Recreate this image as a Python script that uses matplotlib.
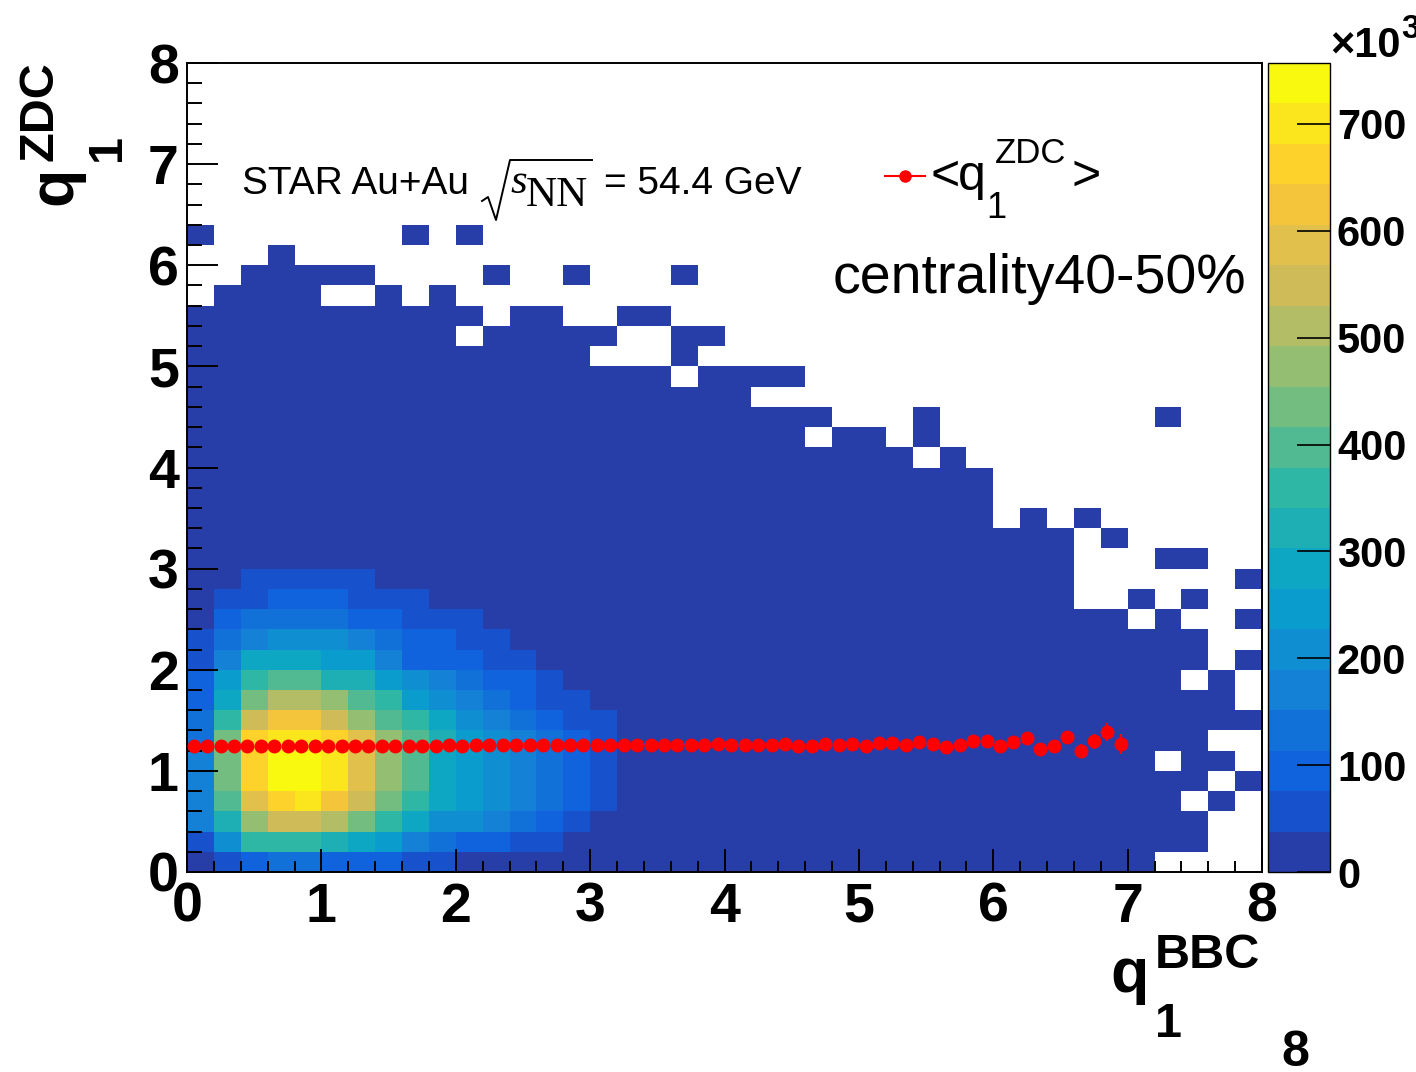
import numpy as np
import matplotlib
matplotlib.use("Agg")
import matplotlib.pyplot as plt
from matplotlib.colors import ListedColormap, BoundaryNorm
from matplotlib.lines import Line2D
from matplotlib.ticker import MultipleLocator

plt.rcParams['font.family'] = ['Liberation Sans', 'DejaVu Sans']

# ---------------------------------------------------------------- data
# 40 x 40 bins, 0 < q1 < 8 on both axes
q_bbc_edges = np.linspace(0.0, 8.0, 41)
q_zdc_edges = np.linspace(0.0, 8.0, 41)

# counts (in thousands) of the dense low-q corner: rows are q1^ZDC bins 0..15,
# columns are q1^BBC bins 0..16
core_counts_k = [
    [28, 60, 98, 135, 130, 100, 92, 88, 55, 45, 30, 22, 16, 12, 9, 7, 5],
    [62, 205, 355, 362, 358, 318, 280, 245, 172, 128, 92, 80, 55, 42, 30, 22, 16],
    [168, 320, 472, 545, 550, 512, 432, 362, 285, 212, 198, 165, 130, 90, 60, 35, 25],
    [172, 398, 585, 662, 700, 625, 548, 435, 358, 282, 242, 205, 168, 128, 92, 58, 35],
    [175, 432, 665, 740, 745, 702, 588, 470, 395, 285, 245, 210, 170, 132, 95, 60, 36],
    [170, 430, 660, 742, 757, 698, 585, 472, 398, 282, 248, 205, 168, 130, 92, 58, 35],
    [135, 428, 662, 705, 710, 660, 580, 468, 392, 320, 245, 205, 165, 128, 90, 55, 33],
    [130, 360, 548, 625, 622, 545, 470, 395, 355, 280, 208, 168, 130, 92, 58, 40, 28],
    [95, 282, 432, 510, 512, 470, 398, 358, 245, 205, 168, 130, 92, 58, 42, 30, 20],
    [90, 245, 360, 398, 395, 322, 320, 245, 205, 170, 130, 92, 80, 55, 35, 25, 18],
    [58, 168, 282, 285, 283, 245, 248, 170, 95, 92, 90, 55, 42, 30, 22, 15, 10],
    [55, 130, 170, 208, 210, 205, 170, 132, 95, 90, 58, 45, 30, 20, 14, 10, 7],
    [35, 92, 130, 132, 135, 130, 95, 90, 58, 50, 40, 28, 18, 12, 8, 6, 4],
    [25, 55, 58, 92, 95, 90, 58, 55, 40, 30, 20, 14, 9, 6, 4, 3, 2],
    [15, 32, 42, 45, 48, 45, 40, 30, 22, 15, 10, 7, 5, 3, 2, 2, 1],
    [8, 18, 25, 30, 32, 28, 25, 20, 14, 9, 6, 4, 3, 2, 1, 1, 1],
]

# filled bins ('#') of the full map, top row = highest q1^ZDC bin
occupied_rows = [
    ".......... .......... .......... ..........",
    ".......... .......... .......... ..........",
    ".......... .......... .......... ..........",
    ".......... .......... .......... ..........",
    ".......... .......... .......... ..........",
    ".......... .......... .......... ..........",
    ".......... .......... .......... ..........",
    ".......... .......... .......... ..........",
    "#.......#. #......... .......... ..........",
    "...#...... .......... .......... ..........",
    "..#####... .#..#...#. .......... ..........",
    ".####..#.# .......... .......... ..........",
    "########## #.##..##.. .......... ..........",
    "########## .#####..## .......... ..........",
    "########## #####...#. .......... ..........",
    "########## ########.# ###....... ..........",
    "########## ########## #......... ..........",
    "########## ########## ####...#.. ......#...",
    "########## ########## ###.##.#.. ..........",
    "########## ########## #######.#. ..........",
    "########## ########## ########## ..........",
    "########## ########## ########## ..........",
    "########## ########## ########## .#.#......",
    "########## ########## ########## ###.#.....",
    "########## ########## ########## ###...##..",
    "########## ########## ########## ###......#",
    "########## ########## ########## ###..#.#..",
    "########## ########## ########## #####.#..#",
    "########## ########## ########## ########..",
    "########## ########## ########## ########.#",
    "########## ########## ########## #######.#.",
    "########## ########## ########## #########.",
    "########## ########## ########## ##########",
    "########## ########## ########## ########..",
    "########## ########## ########## ######.##.",
    "########## ########## ########## ########.#",
    "########## ########## ########## #######.#.",
    "########## ########## ########## ########..",
    "########## ########## ########## ########..",
    "########## ########## ########## ######....",
]
sparse_count_k = 3.0   # typical content of the thinly populated bins

# profile <q1^ZDC> versus q1^BBC (bin width 0.1)
profile_x = np.arange(70) * 0.1 + 0.05
profile_mean = [
    1.242, 1.244, 1.245, 1.244, 1.246, 1.245, 1.246, 1.247, 1.246, 1.247,
    1.248, 1.247, 1.248, 1.249, 1.248, 1.249, 1.250, 1.249, 1.250, 1.251,
    1.250, 1.251, 1.252, 1.251, 1.252, 1.253, 1.252, 1.253, 1.254, 1.253,
    1.256, 1.256, 1.253, 1.253, 1.256, 1.256, 1.253, 1.253, 1.256, 1.263,
    1.259, 1.256, 1.253, 1.259, 1.266, 1.249, 1.243, 1.266, 1.253, 1.263,
    1.246, 1.272, 1.276, 1.255, 1.289, 1.265, 1.236, 1.260, 1.295, 1.299,
    1.243, 1.288, 1.322, 1.212, 1.243, 1.337, 1.200, 1.294, 1.388, 1.263,
]
profile_err = [
    0.002, 0.002, 0.002, 0.002, 0.002, 0.002, 0.002, 0.002, 0.002, 0.002,
    0.002, 0.002, 0.002, 0.003, 0.003, 0.003, 0.003, 0.003, 0.004, 0.004,
    0.004, 0.004, 0.005, 0.005, 0.005, 0.005, 0.006, 0.006, 0.006, 0.007,
    0.007, 0.007, 0.008, 0.008, 0.009, 0.009, 0.010, 0.010, 0.011, 0.012,
    0.012, 0.013, 0.014, 0.015, 0.016, 0.017, 0.018, 0.019, 0.020, 0.022,
    0.023, 0.025, 0.026, 0.028, 0.030, 0.032, 0.034, 0.036, 0.038, 0.040,
    0.042, 0.045, 0.048, 0.050, 0.053, 0.058, 0.062, 0.075, 0.090, 0.100,
]

colorbar_ticks_k = [0, 100, 200, 300, 400, 500, 600, 700]

# ---------------------------------------------------------------- histogram
occ = np.array([[c == '#' for c in row.replace(' ', '')] for row in occupied_rows[::-1]])
counts = np.where(occ, sparse_count_k, 0.0)
core = np.array(core_counts_k, dtype=float)
nr, nc = core.shape
counts[:nr, :nc] = np.where(occ[:nr, :nc], core, 0.0)
counts *= 1e3
counts_m = np.ma.masked_less_equal(counts, 0)

# ROOT "bird" palette, 20 contour bands
_st = [0.0, 0.125, 0.25, 0.375, 0.5, 0.625, 0.75, 0.875, 1.0]
_r = [0.2082, 0.0592, 0.0780, 0.0232, 0.1802, 0.5301, 0.8186, 0.9956, 0.9764]
_g = [0.1664, 0.3599, 0.5041, 0.6419, 0.7178, 0.7492, 0.7328, 0.7862, 0.9832]
_b = [0.5293, 0.8684, 0.8385, 0.7914, 0.6425, 0.4662, 0.3499, 0.1968, 0.0539]


def bird(p):
    return (np.interp(p, _st, _r), np.interp(p, _st, _g), np.interp(p, _st, _b))


ncont = 20
band_colors = [bird(int((k + 0.99) * 255 / ncont) / 255.0) for k in range(ncont)]
cmap = ListedColormap(band_colors)
zmax = counts.max()
norm = BoundaryNorm(np.linspace(0.0, zmax, ncont + 1), ncont)

# ---------------------------------------------------------------- figure
W, H = 1416, 1072
fig = plt.figure(figsize=(W / 100, H / 100), dpi=100)


def F(x, y):
    return x / W, 1 - y / H


ax = fig.add_axes([187 / W, 1 - 872 / H, 1075 / W, 809 / H])
cax = fig.add_axes([1268 / W, 1 - 872 / H, 62 / W, 809 / H])

mesh = ax.pcolormesh(q_bbc_edges, q_zdc_edges, counts_m, cmap=cmap, norm=norm,
                     shading='flat', antialiased=False, zorder=1)
ax.errorbar(profile_x, profile_mean, yerr=profile_err, fmt='o', color='red',
            ms=9, elinewidth=1.5, capsize=0, zorder=3)

ax.set_xlim(0, 8)
ax.set_ylim(0, 8)
ax.set_xticks(range(9))
ax.set_yticks(range(9))
ax.xaxis.set_minor_locator(MultipleLocator(0.2))
ax.yaxis.set_minor_locator(MultipleLocator(0.2))
ax.tick_params(axis='x', which='major', direction='in', length=16.5, width=1.4,
               top=False, labelsize=40, pad=7)
ax.tick_params(axis='x', which='minor', direction='in', length=8, width=1.4, top=False)
ax.tick_params(axis='y', which='major', direction='in', length=22, width=1.4,
               right=False, labelsize=40, pad=6)
ax.tick_params(axis='y', which='minor', direction='in', length=11, width=1.4, right=False)
for lab in ax.get_xticklabels() + ax.get_yticklabels():
    lab.set_fontweight('bold')
for sp in ax.spines.values():
    sp.set_linewidth(1.4)

cb = fig.colorbar(mesh, cax=cax, ticks=[t * 1e3 for t in colorbar_ticks_k])
cb.outline.set_linewidth(1.0)
cax.set_yticklabels([str(t) for t in colorbar_ticks_k])
cax.tick_params(axis='y', which='major', direction='in', length=24, width=1.2,
                labelsize=30, pad=5)
cax.minorticks_off()
for lab in cax.get_yticklabels():
    lab.set_fontweight('bold')

# exponent of the colour scale
fig.text(*F(1330, 57), "\u00d710", fontsize=30, fontweight='bold', ha='left', va='baseline')
fig.text(*F(1401, 38), "3", fontsize=24, fontweight='bold', ha='left', va='baseline')

# axis titles
fig.text(*F(1110, 992), "q", fontsize=45, fontweight='bold', ha='left', va='baseline')
fig.text(*F(1155, 968), "BBC", fontsize=35, fontweight='bold', ha='left', va='baseline')
fig.text(*F(1155, 1037), "1", fontsize=35, fontweight='bold', ha='left', va='baseline')
fig.text(*F(1281, 1066), "8", fontsize=36, fontweight='bold', ha='left', va='baseline')

rot = dict(rotation=90, rotation_mode='anchor', ha='left', va='baseline', fontweight='bold')
fig.text(*F(71, 205), "q", fontsize=45, **rot)
fig.text(*F(53, 161), "ZDC", fontsize=35, **rot)
fig.text(*F(120, 161), "1", fontsize=35, **rot)

# collision label
fig.text(*F(242, 194), "STAR Au+Au", fontsize=28, ha='left', va='baseline')
rad_x = [482, 488, 496, 510, 592]
rad_y = [201, 197, 220, 160, 160]
fig.add_artist(Line2D([x / W for x in rad_x], [1 - y / H for y in rad_y],
                      color='black', lw=1.4, transform=fig.transFigure))
fig.text(*F(510, 193), "s", fontsize=31, family='Liberation Serif', style='italic',
         ha='left', va='baseline')
fig.text(*F(526, 206), "NN", fontsize=31, family='Liberation Serif', ha='left', va='baseline')
fig.text(*F(604, 194), "= 54.4 GeV", fontsize=28, ha='left', va='baseline')

# legend entry
fig.add_artist(Line2D([885 / W, 925 / W], [1 - 176 / H] * 2, color='red', lw=1.5,
                      transform=fig.transFigure))
fig.add_artist(Line2D([905 / W], [1 - 176 / H], color='red', marker='o', ms=8,
                      transform=fig.transFigure))
fig.text(*F(931, 190), "<", fontsize=36, ha='left', va='baseline')
fig.text(*F(958, 190), "q", fontsize=36, ha='left', va='baseline')
fig.text(*F(995, 163), "ZDC", fontsize=25, ha='left', va='baseline')
fig.text(*F(986, 218), "1", fontsize=26, ha='left', va='baseline')
fig.text(*F(1072, 190), ">", fontsize=36, ha='left', va='baseline')

fig.text(*F(833, 293), "centrality40-50%", fontsize=40, ha='left', va='baseline')

fig.savefig("out.png", dpi=100)
